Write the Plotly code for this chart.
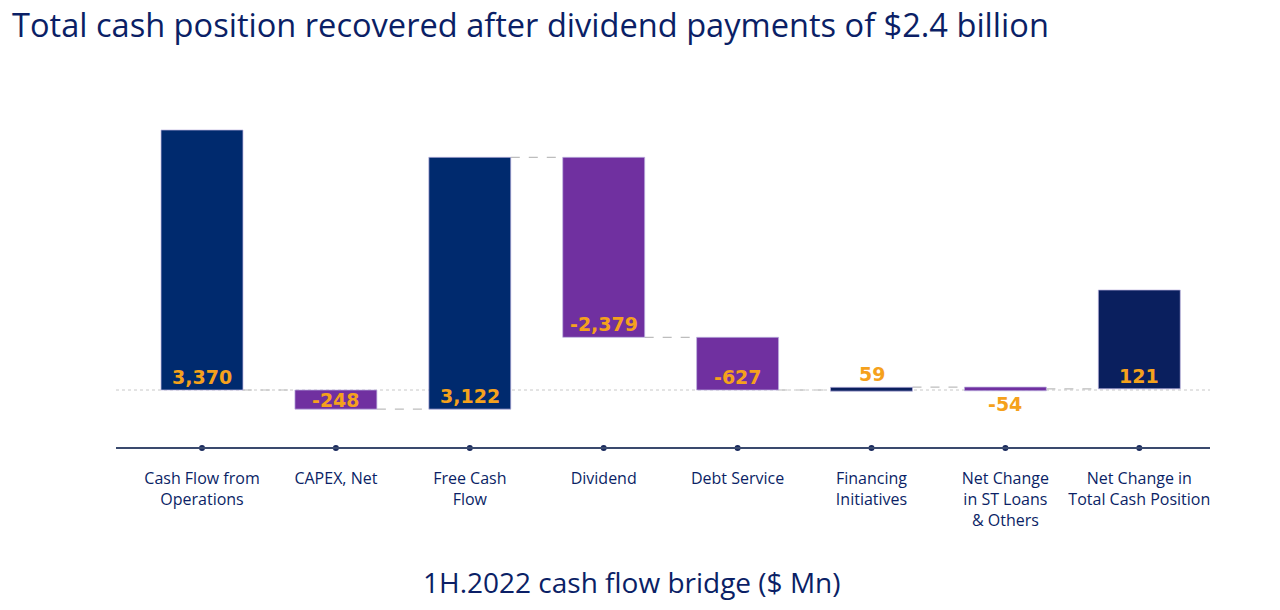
import plotly.graph_objects as go

# ---------------- data ----------------
categories = [
    "Cash Flow from<br>Operations",
    "CAPEX, Net",
    "Free Cash<br>Flow",
    "Dividend",
    "Debt Service",
    "Financing<br>Initiatives",
    "Net Change<br>in ST Loans<br>& Others",
    "Net Change in<br>Total Cash Position",
]
value_labels = ["3,370", "-248", "3,122", "-2,379", "-627", "59", "-54", "121"]
# bar extents as drawn in the picture ($ Mn scale)
bar_low = [0, -248, -248, 683, 0, -15, -10, 15]
bar_high = [3370, 0, 3016, 3016, 683, 35, 38, 1296]
# dashed connector levels between consecutive bars
connector_level = [0, -248, 3016, 683, 0, 38, 15]

# ---------------- styles ----------------
NAVY = "#002A6E"
DARK_NAVY = "#0A1F5E"
PURPLE = "#7030A0"
ORANGE = "#F5A11C"
TEXT_NAVY = "#0B1F66"
bar_colors = [NAVY, PURPLE, NAVY, PURPLE, PURPLE, DARK_NAVY, PURPLE, DARK_NAVY]
label_place = ["bottom", "center", "bottom", "bottom", "bottom", "above", "below", "bottom"]

BAR_W = 0.612
Y_RANGE = [-2851.5, 5055]
X_RANGE = [-0.6423, 7.528]
AXIS_LEVEL = -752  # level of the category axis line
axis_pos = (AXIS_LEVEL - Y_RANGE[0]) / (Y_RANGE[1] - Y_RANGE[0])

heights = [h - l for l, h in zip(bar_low, bar_high)]

fig = go.Figure()
fig.add_trace(go.Bar(
    x=categories,
    y=heights,
    base=bar_low,
    width=BAR_W,
    marker=dict(color=bar_colors, line=dict(color="rgba(190,180,225,0.9)", width=0.8)),
    hoverinfo="skip",
))
# tick dots on the category axis
fig.add_trace(go.Scatter(
    x=categories,
    y=[AXIS_LEVEL] * len(categories),
    mode="markers",
    marker=dict(size=6, color="#1A2A5E"),
    cliponaxis=False,
    hoverinfo="skip",
))

shapes = [dict(type="line", xref="x domain", yref="y", x0=0, x1=1, y0=0, y1=0,
               line=dict(color="#C8C8C8", width=1, dash="dot"), layer="below")]
for i, lvl in enumerate(connector_level):
    shapes.append(dict(type="line", xref="x", yref="y",
                       x0=i + BAR_W / 2, x1=i + 1 - BAR_W / 2, y0=lvl, y1=lvl,
                       line=dict(color="#BDBDBD", width=1.2, dash="dash"),
                       layer="below"))

label_font = dict(family="DejaVu Sans", size=19, color=ORANGE, weight="bold")
annotations = []
for cat, txt, lo, hi, place in zip(categories, value_labels, bar_low, bar_high, label_place):
    if place == "bottom":
        y, anchor = lo, "bottom"
    elif place == "above":
        y, anchor = hi, "bottom"
    elif place == "below":
        y, anchor = lo, "top"
    else:
        y, anchor = (lo + hi) / 2, "middle"
    annotations.append(dict(text=txt, x=cat, y=y, xref="x", yref="y",
                            xanchor="center", yanchor=anchor, showarrow=False,
                            font=label_font))

annotations += [
    dict(text="Total cash position recovered after dividend payments of $2.4 billion",
         xref="paper", yref="paper", x=10 / 1280, y=1,
         xanchor="left", yanchor="top", showarrow=False,
         font=dict(family="Open Sans", size=32.6, color=TEXT_NAVY)),
    dict(text="1H.2022 cash flow bridge ($ Mn)",
         xref="paper", yref="paper", x=632 / 1280, y=1 - 582 / 610,
         xanchor="center", yanchor="middle", showarrow=False,
         font=dict(family="Open Sans", size=28, color=TEXT_NAVY)),
]

fig.update_layout(
    width=1280, height=610,
    margin=dict(l=0, r=0, t=0, b=0),
    paper_bgcolor="white", plot_bgcolor="white",
    showlegend=False,
    shapes=shapes,
    annotations=annotations,
    xaxis=dict(
        type="category",
        domain=[116 / 1280, 1210 / 1280],
        range=X_RANGE,
        anchor="free", position=axis_pos,
        showline=True, linecolor="#3A4A6E", linewidth=1.5,
        showgrid=False, zeroline=False, ticks="",
        tickfont=dict(family="Open Sans", size=16, color=TEXT_NAVY),
        ticklabelstandoff=16,
    ),
    yaxis=dict(range=Y_RANGE, domain=[0, 1], visible=False, showgrid=False, zeroline=False),
)

fig.write_html("out.html")
